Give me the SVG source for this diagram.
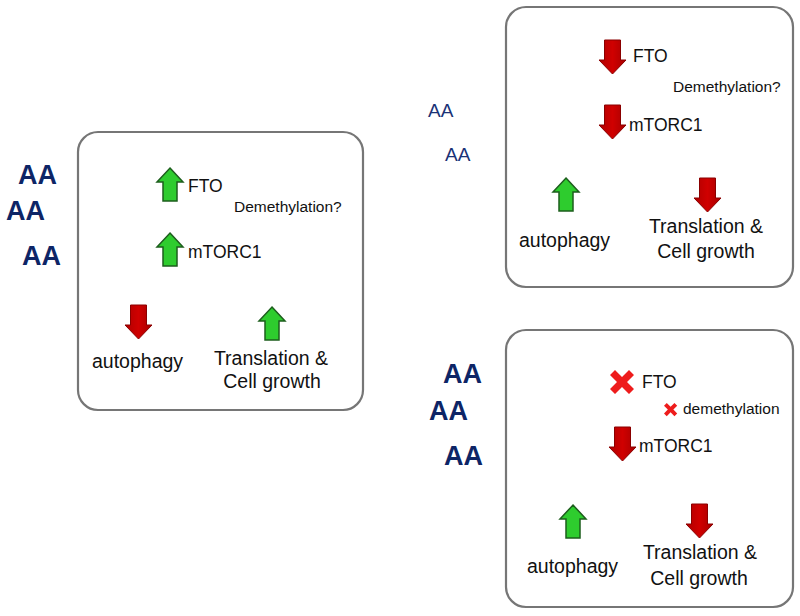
<svg xmlns="http://www.w3.org/2000/svg" xmlns:xlink="http://www.w3.org/1999/xlink" width="800" height="616" viewBox="0 0 800 616">
<style>
.box{fill:#fff;stroke:#767676;stroke-width:2.2}
.t{font-family:"Liberation Sans",Arial,sans-serif;fill:#111}
.m{font-size:17.5px}
.s{font-size:15.5px}
.l{font-size:19.5px}
.aa{font-family:"Liberation Sans",Arial,sans-serif;fill:#0d2566;font-weight:bold;font-size:27px}
.aas{font-family:"Liberation Sans",Arial,sans-serif;fill:#1a3276;font-size:19px}
.up{fill:#2ecc2e;stroke:#1d5e1d;stroke-width:1.5;stroke-linejoin:miter}
.dn{fill:url(#redG);stroke:#8a0000;stroke-width:1}
.x{fill:#ee1c1c}
</style>
<defs>
<linearGradient id="redG" x1="0" y1="0" x2="1" y2="0">
<stop offset="0" stop-color="#b00000"/>
<stop offset="0.5" stop-color="#d00000"/>
<stop offset="1" stop-color="#a80000"/>
</linearGradient>
<path id="upA" class="up" d="M13,0 L26,14 L20,14 L20,33 L6,33 L6,14 L0,14 Z"/>
<path id="dnA" class="dn" d="M13.5,34 L27,20 L21.5,20 L21.5,0 L5.5,0 L5.5,20 L0,20 Z"/>
<polygon id="xA" class="x" points="0,5 5,0 12,7 19,0 24,5 17,12 24,19 19,24 12,17 5,24 0,19 7,12"/>
</defs>

<g id="left-aa">
<text class="aa" x="18" y="184">AA</text>
<text class="aa" x="6" y="220">AA</text>
<text class="aa" x="22" y="265">AA</text>
</g>
<g id="left-panel">
<rect class="box" x="78" y="132" width="285" height="278" rx="20"/>
<use xlink:href="#upA" x="157" y="168"/>
<text class="t m" x="188" y="192">FTO</text>
<text class="t s" x="234" y="212">Demethylation?</text>
<use xlink:href="#upA" x="157" y="233"/>
<text class="t m" x="188" y="258">mTORC1</text>
<use xlink:href="#dnA" x="125" y="305"/>
<text class="t l" x="92" y="368">autophagy</text>
<use xlink:href="#upA" x="259" y="307"/>
<text class="t l" text-anchor="middle" x="271" y="365">Translation &amp;</text>
<text class="t l" text-anchor="middle" x="272" y="388">Cell growth</text>
</g>

<g id="top-aa">
<text class="aas" x="428" y="117">AA</text>
<text class="aas" x="445" y="161">AA</text>
</g>
<g id="top-panel">
<rect class="box" x="506" y="7" width="287" height="280" rx="20"/>
<use xlink:href="#dnA" x="599" y="40"/>
<text class="t m" x="633" y="62">FTO</text>
<text class="t s" x="673" y="92">Demethylation?</text>
<use xlink:href="#dnA" x="599" y="105"/>
<text class="t m" x="629" y="131">mTORC1</text>
<use xlink:href="#upA" x="553" y="178"/>
<text class="t l" x="519" y="247">autophagy</text>
<use xlink:href="#dnA" x="694" y="178"/>
<text class="t l" text-anchor="middle" x="706" y="233">Translation &amp;</text>
<text class="t l" text-anchor="middle" x="706" y="258">Cell growth</text>
</g>

<g id="bottom-aa">
<text class="aa" x="443" y="383">AA</text>
<text class="aa" x="429" y="420">AA</text>
<text class="aa" x="444" y="465">AA</text>
</g>
<g id="bottom-panel">
<rect class="box" x="506" y="330" width="287" height="277" rx="20"/>
<use xlink:href="#xA" x="610" y="370"/>
<text class="t m" x="642" y="388">FTO</text>
<use xlink:href="#xA" transform="translate(664,403) scale(0.55)"/>
<text class="t s" x="683" y="414">demethylation</text>
<use xlink:href="#dnA" x="609" y="427"/>
<text class="t m" x="639" y="452">mTORC1</text>
<use xlink:href="#upA" x="560" y="505"/>
<text class="t l" x="527" y="573">autophagy</text>
<use xlink:href="#dnA" x="686" y="504"/>
<text class="t l" text-anchor="middle" x="700" y="559">Translation &amp;</text>
<text class="t l" text-anchor="middle" x="699" y="585">Cell growth</text>
</g>
<g id="connectors"></g>
</svg>
